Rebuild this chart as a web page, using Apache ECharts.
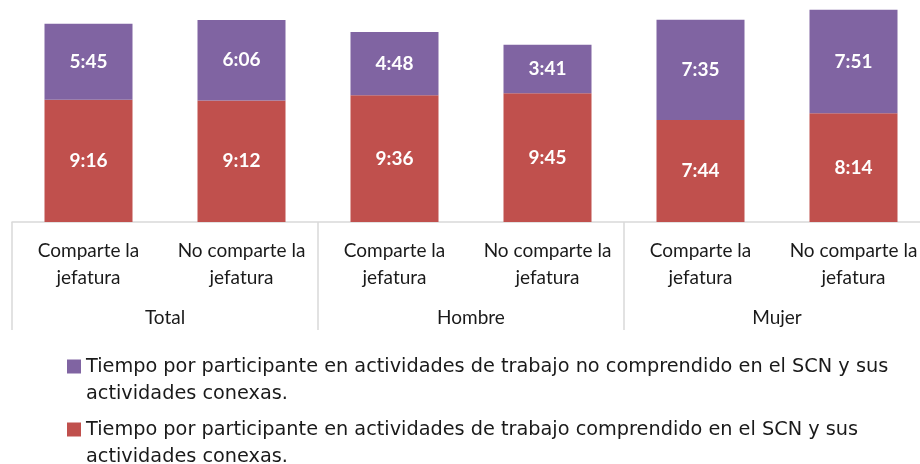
<!DOCTYPE html>
<html>
<head>
<meta charset="utf-8">
<script src="https://cdn.jsdelivr.net/npm/echarts@6/dist/echarts.min.js"></script>
<style>
  html, body { margin: 0; padding: 0; background: #fff; }
  #chart { width: 920px; height: 464px; }
</style>
</head>
<body>
<div id="chart"></div>
<script>
// categorias (nivel 1 y nivel 2)
var categorias = ['Comparte la\njefatura', 'No comparte la\njefatura', 'Comparte la\njefatura', 'No comparte la\njefatura', 'Comparte la\njefatura', 'No comparte la\njefatura'];
var grupos = ['Total', 'Hombre', 'Mujer'];
// minutos por participante
var comprendido = [556, 552, 576, 585, 464, 494];      // 9:16 9:12 9:36 9:45 7:44 8:14
var noComprendido = [345, 366, 288, 221, 455, 471];    // 5:45 6:06 4:48 3:41 7:35 7:51
var nombreNo = 'Tiempo por participante en actividades de trabajo no comprendido en el SCN y sus\nactividades conexas.';
var nombreSi = 'Tiempo por participante en actividades de trabajo comprendido en el SCN y sus\nactividades conexas.';

var fuente = 'Lato';
var colorTexto = '#1a1a1a';

function hhmm(min) {
    var h = Math.floor(min / 60);
    var m = min % 60;
    return h + ':' + (m < 10 ? '0' + m : m);
}

var chart = echarts.init(document.getElementById('chart'), null, { renderer: 'canvas' });

var etiqueta = {
    show: true,
    position: 'inside',
    color: '#fff',
    fontFamily: fuente,
    fontWeight: 'bold',
    fontSize: 19,
    formatter: function(p) { return hhmm(p.value); }
};

// la linea vacia al inicio deja el cuadro a la altura de la primera linea
var leyendaBase = {
    orient: 'vertical',
    left: 67,
    padding: 0,
    itemWidth: 14,
    itemHeight: 14,
    icon: 'rect',
    formatter: function(name) { return '\n' + name; },
    textStyle: {
        fontFamily: 'DejaVu Sans',
        fontSize: 19.3,
        color: colorTexto,
        lineHeight: 27
    }
};

var option = {
    animation: false,
    backgroundColor: '#fff',
    // el eje sigue mas alla del borde derecho, como en el original
    grid: { left: 12, width: 918, top: 2, bottom: 242, outerBoundsMode: 'none' },
    legend: [
        Object.assign({}, leyendaBase, { top: 326, data: [nombreNo] }),
        Object.assign({}, leyendaBase, { top: 389, data: [nombreSi] })
    ],
    xAxis: [{
        type: 'category',
        data: categorias,
        axisLine: { show: true, lineStyle: { color: '#d9d9d9', width: 1.5 } },
        axisTick: { show: false },
        axisLabel: {
            interval: 0,
            margin: 15,
            fontFamily: fuente,
            fontSize: 19,
            lineHeight: 27,
            color: colorTexto
        }
    }, {
        type: 'category',
        data: grupos,
        position: 'bottom',
        axisLine: { show: false },
        axisTick: { show: true, length: 108, lineStyle: { color: '#d9d9d9', width: 1.5 } },
        axisLabel: {
            interval: 0,
            margin: 86,
            fontFamily: fuente,
            fontSize: 19,
            lineHeight: 20,
            color: colorTexto
        }
    }],
    yAxis: {
        type: 'value',
        min: 0,
        max: 1000,
        show: false
    },
    series: [{
        name: nombreSi,
        type: 'bar',
        stack: 'total',
        barWidth: 88,
        data: comprendido,
        itemStyle: { color: '#C0504D' },
        label: etiqueta
    }, {
        name: nombreNo,
        type: 'bar',
        stack: 'total',
        barWidth: 88,
        data: noComprendido,
        itemStyle: { color: '#8064A2' },
        label: etiqueta
    }]
};

chart.setOption(option);
</script>
</body>
</html>
